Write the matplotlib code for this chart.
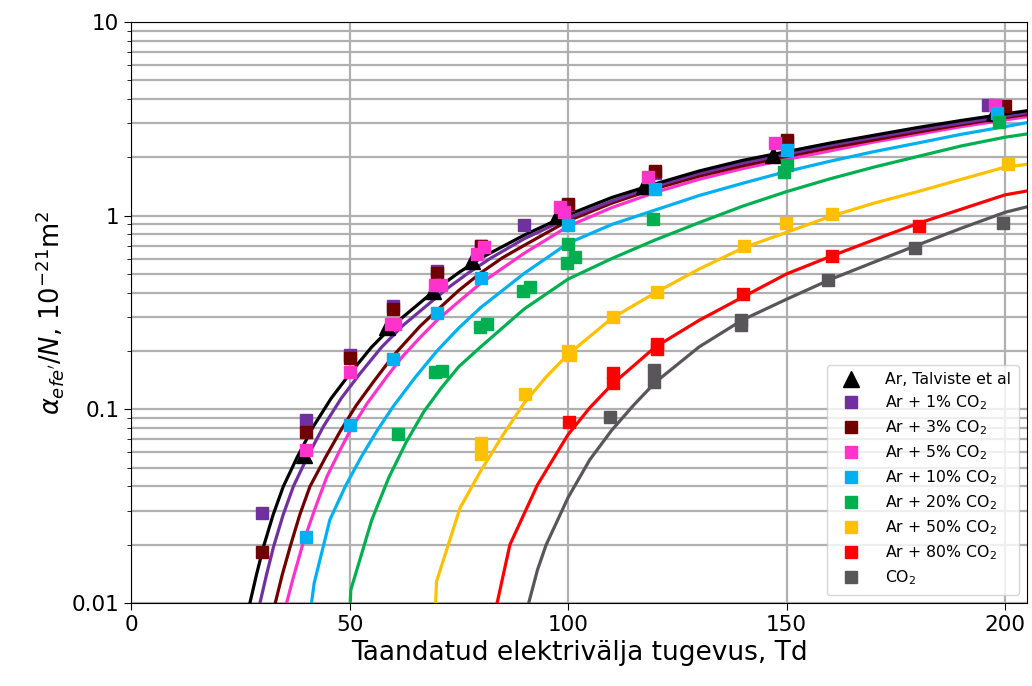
import matplotlib
matplotlib.use("Agg")
import matplotlib.pyplot as plt
from matplotlib.ticker import LogLocator, FixedLocator, FixedFormatter, NullFormatter

# ---------------- data ----------------
labels = ['Ar + 1% CO$_2$', 'Ar + 3% CO$_2$', 'Ar + 5% CO$_2$', 'Ar + 10% CO$_2$',
          'Ar + 20% CO$_2$', 'Ar + 50% CO$_2$', 'Ar + 80% CO$_2$', 'CO$_2$']
ref_label = 'Ar, Talviste et al'

# reference points (triangles)
ref_x = [39.5, 58.5, 69, 78, 97.5, 117.5, 147, 197.5]
ref_y = [0.058, 0.265, 0.41, 0.58, 0.99, 1.42, 2.05, 3.4]

# measured points (squares)
p1_x = [30, 40, 50, 60, 70, 80, 90, 100, 120, 150, 196]
p1_y = [0.029, 0.088, 0.19, 0.34, 0.52, 0.70, 0.89, 1.13, 1.66, 2.41, 3.73]
p3_x = [30, 40, 50, 60, 70, 80, 100, 120, 150, 200]
p3_y = [0.0184, 0.076, 0.185, 0.329, 0.508, 0.70, 1.15, 1.69, 2.46, 3.69]
p5_x = [40, 50, 59.5, 60.5, 69.5, 71, 79.1, 80.8, 98.2, 99, 118.4, 147.4, 197.7]
p5_y = [0.062, 0.155, 0.276, 0.276, 0.44, 0.44, 0.634, 0.69, 1.11, 1.04, 1.58, 2.38, 3.74]
p10_x = [40, 50, 60, 70, 80, 100, 120, 150, 198.2]
p10_y = [0.022, 0.083, 0.181, 0.316, 0.475, 0.89, 1.37, 2.17, 3.38]
p20_x = [61, 69.5, 71.2, 79.8, 81.4, 89.8, 91.3, 99.8, 101.6, 100, 119.5, 149.5, 150.2, 198.7]
p20_y = [0.075, 0.155, 0.158, 0.265, 0.276, 0.41, 0.43, 0.572, 0.614, 0.71, 0.96, 1.67, 1.83, 3.06]
p50_x = [80, 80, 90.2, 100, 100.5, 110.4, 120.3, 140.3, 149.9, 160.3, 200.6]
p50_y = [0.067, 0.059, 0.12, 0.20, 0.19, 0.30, 0.405, 0.698, 0.914, 1.02, 1.84]
p80_x = [100.3, 110.4, 110.4, 120.3, 120.3, 140.1, 160.3, 180.4]
p80_y = [0.0864, 0.154, 0.137, 0.218, 0.205, 0.394, 0.622, 0.885]
pco2_x = [109.6, 119.7, 119.7, 139.5, 139.5, 159.6, 179.3, 199.5]
pco2_y = [0.091, 0.16, 0.139, 0.29, 0.272, 0.466, 0.68, 0.92]

# fitted curves
cref_x = [25.5, 27.2, 28.7, 30.3, 32.5, 34.85, 38, 41.7, 45.8, 50.1, 55, 60, 66.9, 70, 75, 80,
          90, 100, 110, 120, 130, 140, 150, 160, 170, 180, 190, 200, 205]
cref_y = [0.0069, 0.01, 0.014, 0.0195, 0.0285, 0.04, 0.0565, 0.0814, 0.114, 0.153, 0.209, 0.272,
          0.367, 0.42, 0.508, 0.603, 0.794, 1.01, 1.24, 1.46, 1.70, 1.93, 2.14, 2.37, 2.60, 2.85,
          3.10, 3.35, 3.48]
c1_x = [27.8, 29.5, 31.0, 32.6, 34.8, 37.15, 40.3, 44.0, 48.1, 52.4, 57.3, 62.3, 69.2, 72.3, 77.3,
        82.3, 90, 100, 110, 120, 130, 140, 150, 160, 170, 180, 190, 200, 205]
c1_y = [0.0069, 0.01, 0.014, 0.0195, 0.0285, 0.04, 0.0565, 0.0814, 0.114, 0.153, 0.209, 0.272,
        0.367, 0.42, 0.508, 0.603, 0.76, 0.97, 1.19, 1.42, 1.65, 1.87, 2.08, 2.31, 2.53, 2.77,
        3.01, 3.26, 3.40]
c3_x = [31.5, 33.0, 34.6, 36.4, 38.6, 40.95, 44.5, 47.8, 51.5, 55.4, 60, 66.1, 70, 75, 80, 85, 90,
        100, 110, 120, 130, 140, 150, 160, 170, 180, 190, 200, 205]
c3_y = [0.0069, 0.01, 0.014, 0.0195, 0.0285, 0.040, 0.0565, 0.0766, 0.1045, 0.138, 0.189, 0.268,
        0.324, 0.411, 0.506, 0.606, 0.703, 0.94, 1.16, 1.38, 1.60, 1.81, 2.02, 2.24, 2.46, 2.70,
        2.95, 3.21, 3.33]
c5_x = [34.0, 35.6, 37.0, 39.4, 42, 44.8, 47.5, 50.1, 54, 58.5, 62, 66, 70, 75, 80, 90, 100,
        110, 120, 130, 140, 150, 160, 170, 180, 190, 200, 205]
c5_y = [0.0068, 0.01, 0.0132, 0.0205, 0.0303, 0.0448, 0.0596, 0.0773, 0.107, 0.147, 0.186, 0.233,
        0.288, 0.36, 0.447, 0.64, 0.88, 1.10, 1.32, 1.54, 1.75, 1.95, 2.16, 2.40, 2.63, 2.88,
        3.12, 3.24]
c10_x = [38.3, 41.9, 45.5, 49.1, 52.7, 56.3, 60, 65, 70, 75, 80, 90, 100, 110, 120, 130, 140,
         150, 160, 170, 180, 190, 200, 205]
c10_y = [0.0031, 0.01265, 0.0269, 0.0403, 0.0569, 0.0776, 0.1035, 0.146, 0.20, 0.263, 0.335,
         0.504, 0.72, 0.90, 1.07, 1.27, 1.47, 1.69, 1.91, 2.14, 2.37, 2.63, 2.88, 3.02]
c20_x = [46.7, 50.3, 55.1, 59, 63, 67, 71, 75, 80, 90, 100, 110, 120, 130, 140, 150, 160, 170,
         180, 190, 200, 205]
c20_y = [0.0002, 0.0117, 0.0269, 0.0445, 0.0679, 0.0973, 0.129, 0.166, 0.21, 0.33, 0.47, 0.60,
         0.75, 0.92, 1.12, 1.33, 1.55, 1.78, 2.02, 2.29, 2.54, 2.64]
c50_x = [64.5, 69.9, 75.3, 80, 85, 90, 95, 100, 110, 120, 130, 140, 150, 160, 170, 180, 190,
         200, 205]
c50_y = [1.3e-5, 0.0129, 0.031, 0.048, 0.073, 0.108, 0.147, 0.192, 0.295, 0.40, 0.53, 0.68, 0.82,
         0.99, 1.16, 1.33, 1.54, 1.78, 1.84]
c80_x = [80.4, 86.7, 93.0, 100, 105, 110, 120, 130, 140, 150, 160, 170, 180, 190, 200, 205]
c80_y = [0.0045, 0.020, 0.0407, 0.074, 0.102, 0.134, 0.21, 0.288, 0.38, 0.50, 0.615, 0.75, 0.91,
         1.08, 1.28, 1.34]
cco2_x = [89.5, 91, 93, 95, 97, 100, 105, 110, 115, 120, 130, 140, 150, 160, 170, 180, 190, 200, 205]
cco2_y = [0.0063, 0.01, 0.0148, 0.020, 0.025, 0.035, 0.055, 0.078, 0.105, 0.138, 0.21, 0.29, 0.37,
          0.468, 0.575, 0.705, 0.861, 1.04, 1.11]

y_ticks = [0.01, 0.1, 1, 10]
y_tick_labels = ['0.01', '0.1', '1', '10']
x_ticks = [0, 50, 100, 150, 200]

# ---------------- styling ----------------
colors = ['#7030A0', '#700000', '#FF33CC', '#00B0F0', '#00B050', '#FFC000', '#FF0000', '#595659']
points = [(p1_x, p1_y), (p3_x, p3_y), (p5_x, p5_y), (p10_x, p10_y),
          (p20_x, p20_y), (p50_x, p50_y), (p80_x, p80_y), (pco2_x, pco2_y)]
curves = [(c1_x, c1_y), (c3_x, c3_y), (c5_x, c5_y), (c10_x, c10_y),
          (c20_x, c20_y), (c50_x, c50_y), (c80_x, c80_y), (cco2_x, cco2_y)]

fig = plt.figure(figsize=(10.32, 6.86), dpi=100)
ax = fig.add_axes([0.127, 0.121, 0.868, 0.847])

for (cx, cy), col in list(zip(curves, colors))[::-1]:
    ax.plot(cx, cy, color=col, lw=2.3, zorder=2)
ax.plot(cref_x, cref_y, color='black', lw=2.3, zorder=2.1)

ax.plot(ref_x, ref_y, linestyle='none', marker='^', color='black', ms=11,
        label=ref_label, zorder=3)
for (px, py), col, lab in zip(points, colors, labels):
    ax.plot(px, py, linestyle='none', marker='s', color=col, ms=8.5,
            label=lab, zorder=4)

ax.set_yscale('log')
ax.set_xlim(0, 205)
ax.set_ylim(0.01, 10)
ax.yaxis.set_major_locator(FixedLocator(y_ticks))
ax.yaxis.set_major_formatter(FixedFormatter(y_tick_labels))
ax.yaxis.set_minor_locator(LogLocator(base=10, subs=range(2, 10)))
ax.yaxis.set_minor_formatter(NullFormatter())
ax.set_xticks(x_ticks)

ax.grid(True, which='major', axis='both', color='#b0b0b0', lw=1.6)
ax.grid(True, which='minor', axis='y', color='#b0b0b0', lw=1.6)
ax.set_axisbelow(True)

ax.tick_params(axis='both', which='major', labelsize=15.5, length=5)
ax.tick_params(axis='y', which='minor', length=3)

ax.set_xlabel('Taandatud elektrivälja tugevus, Td', fontsize=19)
ax.set_ylabel(r"$\alpha_{efe'}/N$, $10^{-21}$m$^2$", fontsize=18.5)

ax.legend(loc='lower right', fontsize=11.3, handletextpad=1.2, borderpad=0.5,
          labelspacing=0.4)

fig.savefig('out.png', dpi=100)
